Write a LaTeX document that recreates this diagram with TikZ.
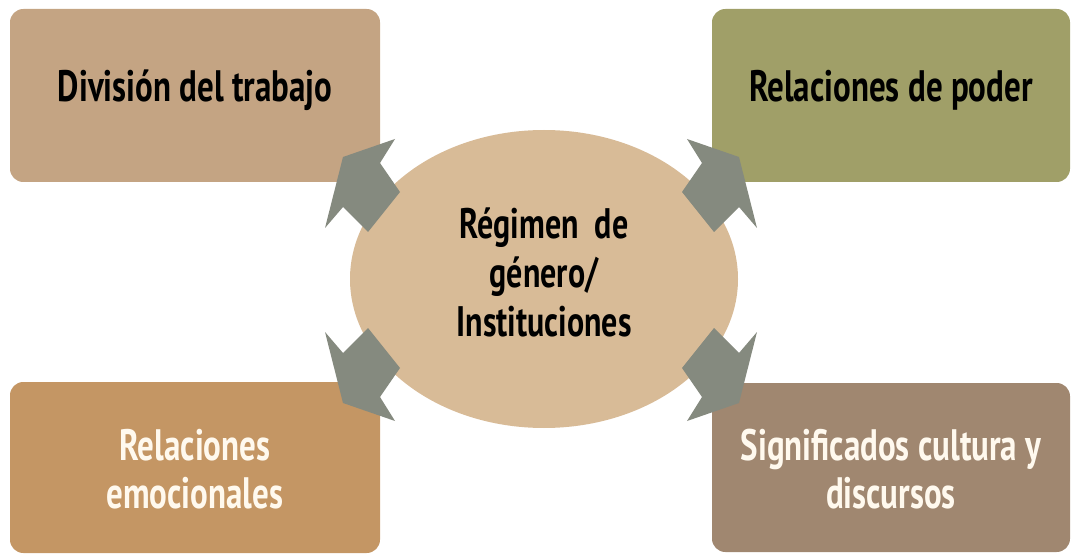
\documentclass[tikz,border=0pt]{standalone}
\usepackage{fontspec}
\setmainfont{PT Sans}[FakeStretch=0.75]
\usetikzlibrary{shapes.geometric}
\definecolor{tlc}{HTML}{C4A483}
\definecolor{trc}{HTML}{A09F68}
\definecolor{blc}{HTML}{C49664}
\definecolor{brc}{HTML}{A08770}
\definecolor{elc}{HTML}{D8BB97}
\definecolor{arc}{HTML}{858A7F}
\definecolor{lighttext}{HTML}{FFF9EE}
\begin{document}
\begin{tikzpicture}[x=0.75pt,y=-0.75pt,
  box/.style={rectangle, rounded corners=10pt, inner sep=0pt},
  boxtext/.style={inner sep=0pt, align=center, font=\bfseries\fontsize{33}{36}\selectfont},
  wide/.style={minimum width=277.5pt},
  narrow/.style={minimum width=268.5pt},
  center/.style={ellipse, inner sep=0pt, fill=elc, minimum width=291pt, minimum height=223.5pt},
  centertext/.style={inner sep=0pt, align=center, font=\bfseries\fontsize{32}{37}\selectfont},
  pics/blockarrow/.style={code={
    \fill[arc] (-198,-123) -- (-146,-141) -- (-161,-117) -- (-141,-88) -- (-173,-48)
      -- (-198,-73) -- (-216,-52) -- cycle;}}
]
\useasboundingbox (0,0) rectangle (1072,556);
\node[box, wide, fill=tlc, minimum height=129.75pt] (div) at (195,95.5) {};
\node[box, narrow, fill=trc, minimum height=129.75pt] (pod) at (891,95.5) {};
\node[box, wide, fill=blc, minimum height=128.25pt] (emo) at (195,467.5) {};
\node[box, narrow, fill=brc, minimum height=126.75pt] (sig) at (891,467.5) {};
\node[boxtext] (divt) at ([yshift=4pt]div.center) {División del trabajo};
\node[boxtext] (podt) at ([yshift=4pt]pod.center) {Relaciones de poder};
\node[boxtext, text=lighttext] (emot) at ([yshift=-1pt]emo.center) {Relaciones\\emocionales};
\node[boxtext, text=lighttext] (sigt) at ([yshift=-1pt]sig.center) {Significados cultura y\\discursos};
\node[center] (reg) at (544,279) {};
\node[centertext] (regt) at ([yshift=5pt]reg.center) {Régimen~~de\\género/\\Instituciones};
\pic at (541,280) {blockarrow};
\pic[xscale=-1] at (541,280) {blockarrow};
\pic[yscale=-1] at (541,280) {blockarrow};
\pic[xscale=-1,yscale=-1] at (541,280) {blockarrow};
\end{tikzpicture}
\end{document}
